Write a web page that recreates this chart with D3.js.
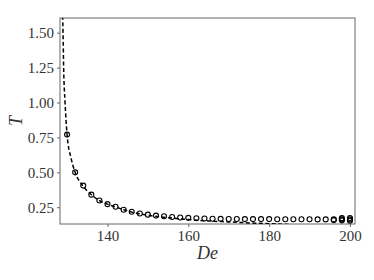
<!DOCTYPE html>
<html><head><meta charset="utf-8">
<script src="https://cdn.jsdelivr.net/npm/d3@7"></script>
<style>body{margin:0;background:#fff}svg text{font-family:"Liberation Serif","DejaVu Serif",serif}</style>
</head><body><svg id="c" width="374" height="280"></svg>
<script>
const xTicks = [140, 160, 180, 200];
const yTicks = [0.25, 0.50, 0.75, 1.00, 1.25, 1.50];
const circleDe = [130,132,134,136,138,140,142,144,146,148,150,152,154,156,158,160,162,164,166,168,170,172,174,176,178,180,182,184,186,188,190,192,194,196,198,200,196,198,198,200,200];
const circleT  = [0.77,0.50,0.405,0.34,0.298,0.272,0.253,0.232,0.218,0.205,0.197,0.19,0.185,0.18,0.177,0.174,0.171,0.169,0.168,0.167,0.166,0.166,0.165,0.165,0.165,0.165,0.164,0.164,0.164,0.164,0.164,0.163,0.163,0.163,0.163,0.163,0.158,0.156,0.172,0.154,0.173];
const lineDe = [128.9,129.0,129.15,129.5,130,131,132,134,136,138,140,142,144,146,148,150,155,160,165,170,175,180,185];
const lineT  = [1.62,1.5,1.25,1.0,0.77,0.6,0.50,0.40,0.34,0.298,0.272,0.252,0.232,0.215,0.203,0.193,0.175,0.162,0.152,0.145,0.138,0.132,0.127];

const L=60,R=355,T=18,B=224;
const svg=d3.select("#c");
const x=d3.scaleLinear().domain([128.25,201.25]).range([L,R]);
const y=d3.scaleLinear().domain([0.13,1.605]).range([B,T]);

svg.append("defs").append("clipPath").attr("id","clip").append("rect")
  .attr("x",L).attr("y",T).attr("width",R-L).attr("height",B-T);

const gx=svg.append("g").attr("transform",`translate(0,${B})`)
  .call(d3.axisBottom(x).tickValues(xTicks).tickSize(3).tickPadding(3).tickFormat(d3.format("d")));
const gy=svg.append("g").attr("transform",`translate(${L},0)`)
  .call(d3.axisLeft(y).tickValues(yTicks).tickSize(3).tickPadding(3).tickFormat(d3.format(".2f")));
[gx,gy].forEach(g=>{
  g.select(".domain").remove();
  g.selectAll(".tick line").attr("stroke","#666");
  g.selectAll(".tick text").attr("font-size",15).attr("fill","#333").attr("font-family","Liberation Serif, serif");
});

svg.append("rect").attr("x",L).attr("y",T).attr("width",R-L).attr("height",B-T)
  .attr("fill","none").attr("stroke","#666").attr("stroke-width",1);

const pts=lineDe.map((d,i)=>[d,lineT[i]]);
svg.append("path").attr("clip-path","url(#clip)")
  .attr("d",d3.line().x(d=>x(d[0])).y(d=>y(d[1])).curve(d3.curveMonotoneX)(pts))
  .attr("fill","none").attr("stroke","#000").attr("stroke-width",1.5).attr("stroke-dasharray","4,2.5");

svg.append("g").attr("clip-path","url(#clip)").selectAll("circle").data(circleDe.map((d,i)=>[d,circleT[i]])).join("circle")
  .attr("cx",d=>x(d[0])).attr("cy",d=>y(d[1])).attr("r",2.5)
  .attr("fill","none").attr("stroke","#000").attr("stroke-width",1.1);

svg.append("text").attr("x",(L+R)/2).attr("y",259).attr("text-anchor","middle")
  .attr("font-size",18).attr("font-style","italic").attr("fill","#333").text("De");
svg.append("text").attr("transform",`translate(22,${(T+B)/2}) rotate(-90)`).attr("text-anchor","middle")
  .attr("font-size",18).attr("font-style","italic").attr("fill","#333").text("T");
</script></body></html>
